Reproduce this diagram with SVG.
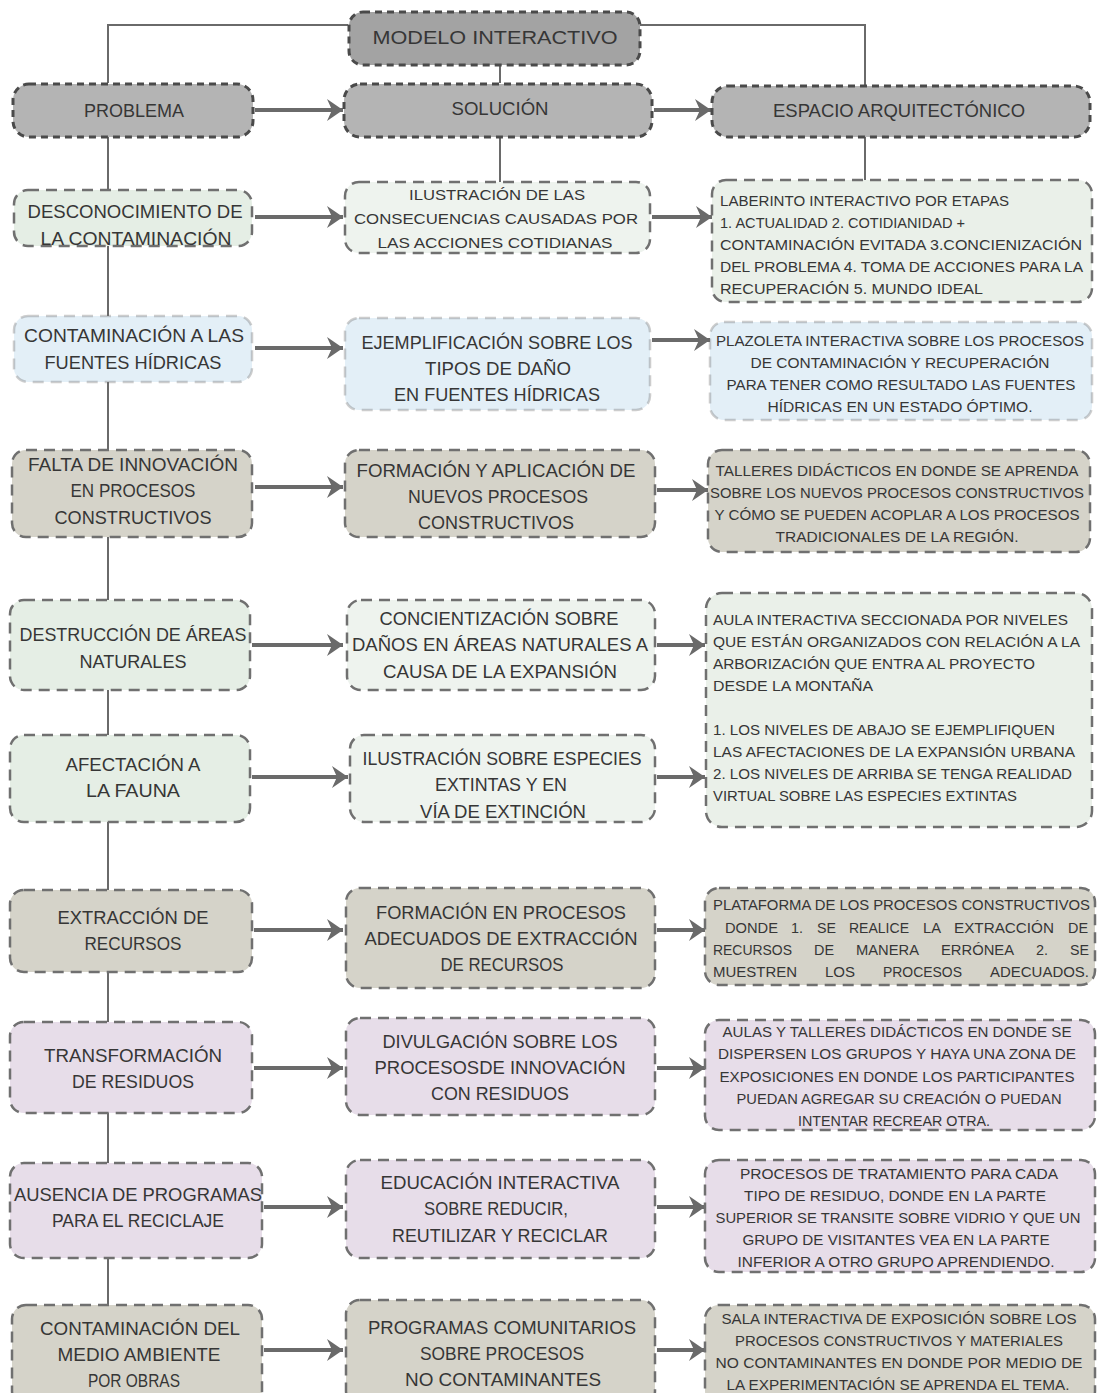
<svg xmlns="http://www.w3.org/2000/svg" width="1103" height="1393" viewBox="0 0 1103 1393">
<style>
text{font-family:"Liberation Sans",Arial,sans-serif;fill:#363636;font-size:19px;text-anchor:middle}
.s{font-size:15px}
.j{font-size:14px;text-anchor:start}
.l{text-anchor:start}
.b{stroke:#707070;stroke-width:2.5;stroke-dasharray:11 7}
.h{stroke:#4a4a4a;stroke-width:3;stroke-dasharray:7 5}
.gm{fill:#a3a3a3}.gh{fill:#b4b4b4}
.gr{fill:#e5eee5}.gr2{fill:#eef3ee}.gr3{fill:#eaf0e9}
.bl{fill:#e3eff7}
.be{fill:#d5d3c9}
.li{fill:#e7dde9}
.c{stroke:#6a6a6a;stroke-width:2;fill:none}
.a{stroke:#6a6a6a;stroke-width:4;fill:none}
</style>
<defs>
<marker id="ah" markerUnits="userSpaceOnUse" markerWidth="20" markerHeight="24" refX="16" refY="12" orient="auto">
<path d="M0,1 L16,12 L0,23 L5,12 Z" fill="#6a6a6a"/>
</marker>
</defs>
<rect width="1103" height="1393" fill="#ffffff"/>
<g id="connectors">
<polyline class="c" points="348,25 108,25 108,83"/>
<polyline class="c" points="640,25 865,25 865,85"/>
<line class="c" x1="500" y1="65" x2="500" y2="83"/>
<line class="c" x1="108" y1="137" x2="108" y2="1305"/>
<line class="c" x1="500" y1="137" x2="500" y2="182"/>
<line class="c" x1="865" y1="137" x2="865" y2="180"/>
<line class="a" x1="255" y1="110" x2="343" y2="110" marker-end="url(#ah)"/>
<line class="a" x1="654" y1="110" x2="711" y2="110" marker-end="url(#ah)"/>
<line class="a" x1="255" y1="217" x2="343" y2="217" marker-end="url(#ah)"/>
<line class="a" x1="652" y1="217" x2="712" y2="217" marker-end="url(#ah)"/>
<line class="a" x1="255" y1="348" x2="343" y2="348" marker-end="url(#ah)"/>
<line class="a" x1="652" y1="340" x2="710" y2="340" marker-end="url(#ah)"/>
<line class="a" x1="255" y1="487" x2="343" y2="487" marker-end="url(#ah)"/>
<line class="a" x1="657" y1="490" x2="708" y2="490" marker-end="url(#ah)"/>
<line class="a" x1="252" y1="645" x2="343" y2="645" marker-end="url(#ah)"/>
<line class="a" x1="657" y1="645" x2="705" y2="645" marker-end="url(#ah)"/>
<line class="a" x1="252" y1="777" x2="348" y2="777" marker-end="url(#ah)"/>
<line class="a" x1="657" y1="777" x2="705" y2="777" marker-end="url(#ah)"/>
<line class="a" x1="254" y1="930" x2="343" y2="930" marker-end="url(#ah)"/>
<line class="a" x1="657" y1="930" x2="705" y2="930" marker-end="url(#ah)"/>
<line class="a" x1="254" y1="1068" x2="343" y2="1068" marker-end="url(#ah)"/>
<line class="a" x1="657" y1="1068" x2="705" y2="1068" marker-end="url(#ah)"/>
<line class="a" x1="264" y1="1207" x2="343" y2="1207" marker-end="url(#ah)"/>
<line class="a" x1="657" y1="1207" x2="705" y2="1207" marker-end="url(#ah)"/>
<line class="a" x1="264" y1="1350" x2="343" y2="1350" marker-end="url(#ah)"/>
<line class="a" x1="657" y1="1350" x2="705" y2="1350" marker-end="url(#ah)"/>
</g>
<g id="modelo"><rect class="gm h" x="349" y="12" width="291" height="53" rx="14"/>
<text x="495" y="44" textLength="245" lengthAdjust="spacingAndGlyphs">MODELO INTERACTIVO</text></g>
<g id="problema"><rect class="gh h" x="13" y="84" width="240" height="53" rx="16"/>
<text x="134" y="117" textLength="100" lengthAdjust="spacingAndGlyphs">PROBLEMA</text></g>
<g id="solucion"><rect class="gh h" x="344" y="84" width="308" height="53" rx="16"/>
<text x="500" y="115" textLength="97" lengthAdjust="spacingAndGlyphs">SOLUCIÓN</text></g>
<g id="espacio"><rect class="gh h" x="712" y="86" width="378" height="51" rx="16"/>
<text x="899" y="117" textLength="252" lengthAdjust="spacingAndGlyphs">ESPACIO ARQUITECTÓNICO</text></g>

<g id="p1"><rect class="gr b" x="14" y="190" width="238" height="56" rx="14"/>
<text x="135" y="218" textLength="215" lengthAdjust="spacingAndGlyphs">DESCONOCIMIENTO DE</text>
<text x="136" y="245" textLength="191" lengthAdjust="spacingAndGlyphs">LA CONTAMINACIÓN</text></g>
<g id="s1"><rect class="gr2 b" x="345" y="182" width="305" height="71" rx="14"/>
<text class="s" x="497" y="200" textLength="176" lengthAdjust="spacingAndGlyphs">ILUSTRACIÓN DE LAS</text>
<text class="s" x="496" y="224" textLength="284" lengthAdjust="spacingAndGlyphs">CONSECUENCIAS CAUSADAS POR</text>
<text class="s" x="495" y="248" textLength="235" lengthAdjust="spacingAndGlyphs">LAS ACCIONES COTIDIANAS</text></g>
<g id="e1"><rect class="gr3 b" x="712" y="180" width="380" height="122" rx="14"/>
<text class="s l" x="720" y="206" textLength="289" lengthAdjust="spacingAndGlyphs">LABERINTO INTERACTIVO POR ETAPAS</text>
<text class="s l" x="720" y="228" textLength="245" lengthAdjust="spacingAndGlyphs">1. ACTUALIDAD  2. COTIDIANIDAD +</text>
<text class="s l" x="720" y="250" textLength="362" lengthAdjust="spacingAndGlyphs">CONTAMINACIÓN EVITADA  3.CONCIENIZACIÓN</text>
<text class="s l" x="720" y="272" textLength="363" lengthAdjust="spacingAndGlyphs">DEL PROBLEMA 4. TOMA DE ACCIONES PARA LA</text>
<text class="s l" x="720" y="294" textLength="263" lengthAdjust="spacingAndGlyphs">RECUPERACIÓN   5. MUNDO IDEAL</text></g>

<g id="p2"><rect class="bl b" x="14" y="316" width="238" height="66" rx="14" stroke-opacity="0.35"/>
<text x="134" y="342" textLength="220" lengthAdjust="spacingAndGlyphs">CONTAMINACIÓN A LAS</text>
<text x="133" y="369" textLength="177" lengthAdjust="spacingAndGlyphs">FUENTES HÍDRICAS</text></g>
<g id="s2"><rect class="bl b" x="345" y="318" width="305" height="92" rx="14" stroke-opacity="0.35"/>
<text x="497" y="349" textLength="271" lengthAdjust="spacingAndGlyphs">EJEMPLIFICACIÓN SOBRE LOS</text>
<text x="498" y="375" textLength="146" lengthAdjust="spacingAndGlyphs">TIPOS DE DAÑO</text>
<text x="497" y="401" textLength="206" lengthAdjust="spacingAndGlyphs">EN FUENTES HÍDRICAS</text></g>
<g id="e2"><rect class="bl b" x="710" y="322" width="382" height="98" rx="14" stroke-opacity="0.35"/>
<text class="s" x="900" y="346" textLength="368" lengthAdjust="spacingAndGlyphs">PLAZOLETA INTERACTIVA SOBRE LOS PROCESOS</text>
<text class="s" x="900" y="368" textLength="299" lengthAdjust="spacingAndGlyphs">DE CONTAMINACIÓN Y RECUPERACIÓN</text>
<text class="s" x="901" y="390" textLength="349" lengthAdjust="spacingAndGlyphs">PARA TENER COMO RESULTADO LAS FUENTES</text>
<text class="s" x="900" y="412" textLength="265" lengthAdjust="spacingAndGlyphs">HÍDRICAS EN UN ESTADO ÓPTIMO.</text></g>

<g id="p3"><rect class="be b" x="12" y="450" width="240" height="87" rx="14"/>
<text x="133" y="471" textLength="210" lengthAdjust="spacingAndGlyphs">FALTA DE INNOVACIÓN</text>
<text x="133" y="497" textLength="125" lengthAdjust="spacingAndGlyphs">EN PROCESOS</text>
<text x="133" y="524" textLength="157" lengthAdjust="spacingAndGlyphs">CONSTRUCTIVOS</text></g>
<g id="s3"><rect class="be b" x="345" y="450" width="310" height="87" rx="14"/>
<text x="496" y="477" textLength="279" lengthAdjust="spacingAndGlyphs">FORMACIÓN Y APLICACIÓN DE</text>
<text x="498" y="503" textLength="180" lengthAdjust="spacingAndGlyphs">NUEVOS PROCESOS</text>
<text x="496" y="529" textLength="156" lengthAdjust="spacingAndGlyphs">CONSTRUCTIVOS</text></g>
<g id="e3"><rect class="be b" x="708" y="450" width="382" height="102" rx="14" stroke="#4a4a4a"/>
<text class="s" x="897" y="476" textLength="363" lengthAdjust="spacingAndGlyphs">TALLERES DIDÁCTICOS EN DONDE SE APRENDA</text>
<text class="s" x="897" y="498" textLength="374" lengthAdjust="spacingAndGlyphs">SOBRE LOS NUEVOS PROCESOS CONSTRUCTIVOS</text>
<text class="s" x="897" y="520" textLength="365" lengthAdjust="spacingAndGlyphs">Y CÓMO SE PUEDEN ACOPLAR A LOS PROCESOS</text>
<text class="s" x="897" y="542" textLength="243" lengthAdjust="spacingAndGlyphs">TRADICIONALES DE LA REGIÓN.</text></g>

<g id="p4"><rect class="gr b" x="10" y="600" width="240" height="90" rx="14"/>
<text x="133" y="641" textLength="227" lengthAdjust="spacingAndGlyphs">DESTRUCCIÓN DE ÁREAS</text>
<text x="133" y="668" textLength="107" lengthAdjust="spacingAndGlyphs">NATURALES</text></g>
<g id="s4"><rect class="gr2 b" x="347" y="600" width="308" height="90" rx="14"/>
<text x="499" y="625" textLength="239" lengthAdjust="spacingAndGlyphs">CONCIENTIZACIÓN SOBRE</text>
<text x="500" y="651" textLength="296" lengthAdjust="spacingAndGlyphs">DAÑOS EN ÁREAS NATURALES A</text>
<text x="500" y="678" textLength="234" lengthAdjust="spacingAndGlyphs">CAUSA DE LA EXPANSIÓN</text></g>
<g id="e4"><rect class="gr3 b" x="706" y="593" width="386" height="234" rx="16"/>
<text class="s l" x="713" y="625" textLength="355" lengthAdjust="spacingAndGlyphs">AULA INTERACTIVA SECCIONADA POR NIVELES</text>
<text class="s l" x="713" y="647" textLength="367" lengthAdjust="spacingAndGlyphs">QUE ESTÁN ORGANIZADOS CON RELACIÓN A LA</text>
<text class="s l" x="713" y="669" textLength="322" lengthAdjust="spacingAndGlyphs">ARBORIZACIÓN QUE ENTRA AL PROYECTO</text>
<text class="s l" x="713" y="691" textLength="160" lengthAdjust="spacingAndGlyphs">DESDE LA MONTAÑA</text>
<text class="s l" x="713" y="735" textLength="342" lengthAdjust="spacingAndGlyphs">1. LOS NIVELES DE ABAJO SE EJEMPLIFIQUEN</text>
<text class="s l" x="713" y="757" textLength="362" lengthAdjust="spacingAndGlyphs">LAS AFECTACIONES DE LA EXPANSIÓN URBANA</text>
<text class="s l" x="713" y="779" textLength="359" lengthAdjust="spacingAndGlyphs">2. LOS NIVELES DE ARRIBA SE TENGA REALIDAD</text>
<text class="s l" x="713" y="801" textLength="304" lengthAdjust="spacingAndGlyphs">VIRTUAL SOBRE LAS ESPECIES EXTINTAS</text></g>

<g id="p5"><rect class="gr b" x="10" y="735" width="240" height="87" rx="14"/>
<text x="133" y="771" textLength="135" lengthAdjust="spacingAndGlyphs">AFECTACIÓN A</text>
<text x="133" y="797" textLength="94" lengthAdjust="spacingAndGlyphs">LA FAUNA</text></g>
<g id="s5"><rect class="gr2 b" x="350" y="735" width="305" height="87" rx="14"/>
<text x="502" y="765" textLength="279" lengthAdjust="spacingAndGlyphs">ILUSTRACIÓN SOBRE ESPECIES</text>
<text x="501" y="791" textLength="132" lengthAdjust="spacingAndGlyphs">EXTINTAS Y EN</text>
<text x="503" y="818" textLength="166" lengthAdjust="spacingAndGlyphs">VÍA DE EXTINCIÓN</text></g>

<g id="p6"><rect class="be b" x="10" y="890" width="242" height="82" rx="14"/>
<text x="133" y="924" textLength="151" lengthAdjust="spacingAndGlyphs">EXTRACCIÓN DE</text>
<text x="133" y="950" textLength="97" lengthAdjust="spacingAndGlyphs">RECURSOS</text></g>
<g id="s6"><rect class="be b" x="346" y="888" width="309" height="100" rx="14"/>
<text x="501" y="919" textLength="250" lengthAdjust="spacingAndGlyphs">FORMACIÓN EN PROCESOS</text>
<text x="501" y="945" textLength="273" lengthAdjust="spacingAndGlyphs">ADECUADOS DE EXTRACCIÓN</text>
<text x="502" y="971" textLength="123" lengthAdjust="spacingAndGlyphs">DE RECURSOS</text></g>
<g id="e6"><rect class="be b" x="705" y="888" width="390" height="97" rx="14" stroke="#4a4a4a"/>
<text class="s l" x="713" y="910" textLength="377" lengthAdjust="spacingAndGlyphs">PLATAFORMA DE LOS PROCESOS CONSTRUCTIVOS</text>
<text class="j" y="933"><tspan x="725" textLength="53" lengthAdjust="spacingAndGlyphs">DONDE</tspan><tspan x="791" textLength="12" lengthAdjust="spacingAndGlyphs">1.</tspan><tspan x="817" textLength="19" lengthAdjust="spacingAndGlyphs">SE</tspan><tspan x="849" textLength="60" lengthAdjust="spacingAndGlyphs">REALICE</tspan><tspan x="923" textLength="18" lengthAdjust="spacingAndGlyphs">LA</tspan><tspan x="954" textLength="100" lengthAdjust="spacingAndGlyphs">EXTRACCIÓN</tspan><tspan x="1068" textLength="20" lengthAdjust="spacingAndGlyphs">DE</tspan></text>
<text class="j" y="955"><tspan x="713" textLength="79" lengthAdjust="spacingAndGlyphs">RECURSOS</tspan><tspan x="814" textLength="20" lengthAdjust="spacingAndGlyphs">DE</tspan><tspan x="856" textLength="63" lengthAdjust="spacingAndGlyphs">MANERA</tspan><tspan x="941" textLength="73" lengthAdjust="spacingAndGlyphs">ERRÓNEA</tspan><tspan x="1036" textLength="12" lengthAdjust="spacingAndGlyphs">2.</tspan><tspan x="1070" textLength="19" lengthAdjust="spacingAndGlyphs">SE</tspan></text>
<text class="j" y="977"><tspan x="713" textLength="84" lengthAdjust="spacingAndGlyphs">MUESTREN</tspan><tspan x="825" textLength="30" lengthAdjust="spacingAndGlyphs">LOS</tspan><tspan x="883" textLength="79" lengthAdjust="spacingAndGlyphs">PROCESOS</tspan><tspan x="990" textLength="99" lengthAdjust="spacingAndGlyphs">ADECUADOS.</tspan></text></g>

<g id="p7"><rect class="li b" x="10" y="1022" width="242" height="91" rx="14"/>
<text x="133" y="1062" textLength="178" lengthAdjust="spacingAndGlyphs">TRANSFORMACIÓN</text>
<text x="133" y="1088" textLength="122" lengthAdjust="spacingAndGlyphs">DE RESIDUOS</text></g>
<g id="s7"><rect class="li b" x="346" y="1018" width="309" height="97" rx="14"/>
<text x="500" y="1048" textLength="235" lengthAdjust="spacingAndGlyphs">DIVULGACIÓN SOBRE LOS</text>
<text x="500" y="1074" textLength="251" lengthAdjust="spacingAndGlyphs">PROCESOSDE INNOVACIÓN</text>
<text x="500" y="1100" textLength="138" lengthAdjust="spacingAndGlyphs">CON RESIDUOS</text></g>
<g id="e7"><rect class="li b" x="705" y="1020" width="390" height="110" rx="14" stroke="#4a4a4a"/>
<text class="s" x="897" y="1037" textLength="349" lengthAdjust="spacingAndGlyphs">AULAS Y TALLERES DIDÁCTICOS EN DONDE SE</text>
<text class="s" x="897" y="1059" textLength="358" lengthAdjust="spacingAndGlyphs">DISPERSEN LOS GRUPOS Y HAYA UNA ZONA DE</text>
<text class="s" x="897" y="1082" textLength="355" lengthAdjust="spacingAndGlyphs">EXPOSICIONES EN DONDE LOS PARTICIPANTES</text>
<text class="s" x="899" y="1104" textLength="325" lengthAdjust="spacingAndGlyphs">PUEDAN AGREGAR SU CREACIÓN O PUEDAN</text>
<text class="s" x="894" y="1126" textLength="192" lengthAdjust="spacingAndGlyphs">INTENTAR RECREAR OTRA.</text></g>

<g id="p8"><rect class="li b" x="10" y="1163" width="252" height="95" rx="14"/>
<text x="138" y="1201" textLength="248" lengthAdjust="spacingAndGlyphs">AUSENCIA DE PROGRAMAS</text>
<text x="138" y="1227" textLength="172" lengthAdjust="spacingAndGlyphs">PARA EL RECICLAJE</text></g>
<g id="s8"><rect class="li b" x="346" y="1160" width="309" height="98" rx="14"/>
<text x="500" y="1189" textLength="239" lengthAdjust="spacingAndGlyphs">EDUCACIÓN INTERACTIVA</text>
<text x="496" y="1215" textLength="144" lengthAdjust="spacingAndGlyphs">SOBRE REDUCIR,</text>
<text x="500" y="1242" textLength="216" lengthAdjust="spacingAndGlyphs">REUTILIZAR Y RECICLAR</text></g>
<g id="e8"><rect class="li b" x="705" y="1160" width="390" height="112" rx="14" stroke="#4a4a4a"/>
<text class="s" x="899" y="1179" textLength="318" lengthAdjust="spacingAndGlyphs">PROCESOS DE TRATAMIENTO PARA CADA</text>
<text class="s" x="895" y="1201" textLength="302" lengthAdjust="spacingAndGlyphs">TIPO DE RESIDUO, DONDE EN LA PARTE</text>
<text class="s" x="898" y="1223" textLength="365" lengthAdjust="spacingAndGlyphs">SUPERIOR SE TRANSITE SOBRE VIDRIO Y QUE UN</text>
<text class="s" x="896" y="1245" textLength="307" lengthAdjust="spacingAndGlyphs">GRUPO DE VISITANTES VEA EN LA PARTE</text>
<text class="s" x="896" y="1267" textLength="317" lengthAdjust="spacingAndGlyphs">INFERIOR A OTRO GRUPO APRENDIENDO.</text></g>

<g id="p9"><rect class="be b" x="12" y="1305" width="250" height="100" rx="14"/>
<text x="140" y="1335" textLength="200" lengthAdjust="spacingAndGlyphs">CONTAMINACIÓN DEL</text>
<text x="139" y="1361" textLength="163" lengthAdjust="spacingAndGlyphs">MEDIO AMBIENTE</text>
<text x="134" y="1387" textLength="92" lengthAdjust="spacingAndGlyphs">POR OBRAS</text></g>
<g id="s9"><rect class="be b" x="346" y="1300" width="309" height="105" rx="14"/>
<text x="502" y="1334" textLength="268" lengthAdjust="spacingAndGlyphs">PROGRAMAS COMUNITARIOS</text>
<text x="502" y="1360" textLength="164" lengthAdjust="spacingAndGlyphs">SOBRE PROCESOS</text>
<text x="503" y="1386" textLength="196" lengthAdjust="spacingAndGlyphs">NO CONTAMINANTES</text></g>
<g id="e9"><rect class="be b" x="705" y="1305" width="390" height="100" rx="14" stroke="#4a4a4a"/>
<text class="s" x="899" y="1324" textLength="355" lengthAdjust="spacingAndGlyphs">SALA INTERACTIVA DE EXPOSICIÓN SOBRE LOS</text>
<text class="s" x="899" y="1346" textLength="328" lengthAdjust="spacingAndGlyphs">PROCESOS CONSTRUCTIVOS Y MATERIALES</text>
<text class="s" x="899" y="1368" textLength="367" lengthAdjust="spacingAndGlyphs">NO CONTAMINANTES EN DONDE POR MEDIO DE</text>
<text class="s" x="898" y="1390" textLength="343" lengthAdjust="spacingAndGlyphs">LA EXPERIMENTACIÓN SE APRENDA EL TEMA.</text></g>
</svg>
